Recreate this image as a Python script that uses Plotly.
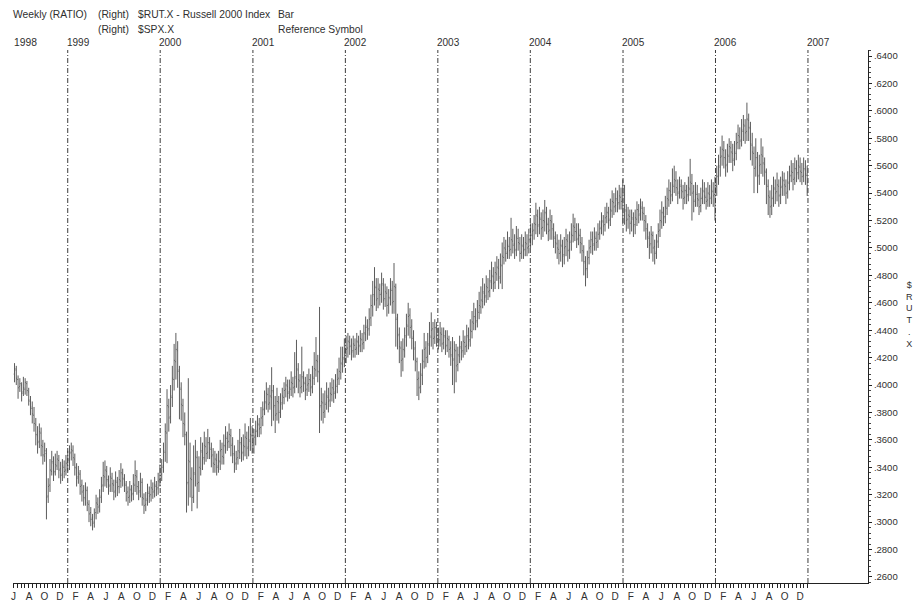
import pandas as pd
import plotly.graph_objects as go

# Weekly RUT/SPX ratio bars, values in thousandths (e.g. 412 -> .412)
close_1998 = [412,405,398,401,394,398,402,396,389,384,379,372,364,358,366,356,349,352,318,326,338,344,336,342,346,338,334,341,337,343,346]
open_1998 = [408,411,404,399,400,395,397,401,395,388,383,378,371,363,359,365,355,348,350,319,327,337,343,337,341,345,339,335,340,338,342]
high_1998 = [416,414,407,405,402,406,405,403,398,392,388,384,376,370,372,369,360,358,354,332,346,352,348,350,352,349,344,346,345,349,352]
low_1998 = [402,400,390,395,388,392,393,392,385,378,372,366,356,350,354,348,342,344,302,314,322,334,330,334,338,332,328,330,332,334,337]

close_1999 = [350,353,347,340,332,336,326,322,318,324,314,306,302,299,306,314,311,318,326,334,338,331,326,333,328,322,330,325,331,336,332,328,321,318,324,320,328,334,326,322,330,318,312,316,322,319,325,322,327,324,330,334]
open_1999 = [345,351,352,346,339,333,335,327,323,317,323,313,307,303,300,307,313,312,319,327,333,337,330,327,332,327,323,329,326,330,335,331,327,322,319,323,321,327,333,325,323,329,317,313,317,321,320,324,323,326,325,331]
high_1999 = [356,358,356,350,343,341,338,331,327,329,326,316,311,306,310,320,318,324,333,344,345,341,334,340,336,331,337,333,338,343,339,335,330,326,330,327,335,345,338,330,336,332,321,322,328,326,331,329,333,330,336,342]
low_1999 = [338,345,341,334,326,328,320,315,312,312,308,300,297,294,296,302,306,307,314,322,326,325,320,322,322,316,318,319,321,325,326,322,315,312,314,315,316,322,320,316,318,312,306,308,312,314,315,317,318,319,320,326]

close_2000 = [340,352,366,385,376,392,405,418,426,410,398,386,372,364,328,345,332,318,336,348,328,340,352,346,356,350,358,354,348,343,346,340,345,352,348,356,362,358,364,356,350,342,346,352,358,350,356,362,354,360,364,358]
open_2000 = [335,341,351,365,384,377,391,404,417,425,411,397,385,371,363,329,344,331,319,335,347,329,339,351,347,355,351,357,353,349,342,345,341,344,353,347,355,361,359,363,357,349,343,347,351,357,351,355,361,355,359,363]
high_2000 = [346,358,372,397,390,400,414,430,438,432,414,402,390,380,366,405,358,340,356,360,352,348,362,358,366,362,368,362,358,354,352,350,352,360,358,364,370,366,372,368,362,356,352,360,368,362,364,372,366,370,376,370]
low_2000 = [330,336,344,343,366,372,384,396,404,398,375,374,362,356,307,312,318,308,314,326,310,322,334,338,342,344,346,346,340,336,336,334,336,338,342,342,350,352,354,348,343,336,338,342,346,344,345,348,346,348,352,350]

close_2001 = [362,366,372,368,376,382,388,394,386,392,396,384,378,388,380,386,392,396,400,394,398,402,398,406,412,404,398,406,402,396,400,404,398,406,412,418,410,384,388,380,386,392,388,394,398,394,400,404,410,416,420,424]
open_2001 = [357,363,367,371,369,377,383,387,393,387,391,395,385,379,387,381,387,391,397,399,395,397,401,399,405,411,403,399,405,401,397,401,403,399,405,411,417,409,385,387,381,387,391,389,393,397,395,399,405,409,415,419]
high_2001 = [368,374,378,376,384,388,396,402,398,400,413,400,392,398,392,394,398,402,406,404,404,410,406,424,433,416,408,428,410,406,408,412,408,414,424,435,422,457,398,394,396,402,398,402,405,404,408,412,420,428,428,434]
low_2001 = [350,356,362,362,364,370,378,382,380,382,370,374,365,374,372,376,382,386,391,388,390,392,391,394,398,394,391,394,395,389,392,395,392,394,400,406,402,365,374,372,376,382,380,384,388,387,390,394,400,404,409,413]

close_2002 = [426,432,428,424,430,426,432,428,434,430,438,442,440,448,458,466,472,462,470,466,474,462,468,458,464,470,460,472,448,436,428,418,426,436,444,450,442,434,426,418,404,398,408,418,426,420,430,436,440,434,442,436]
open_2002 = [423,427,431,429,425,429,427,431,429,433,431,437,443,441,449,457,465,471,463,469,467,473,463,467,459,463,469,461,471,449,437,427,419,425,435,443,451,443,435,427,417,405,399,407,417,427,421,429,435,441,435,441]
high_2002 = [436,438,436,434,436,434,438,436,440,438,444,450,448,456,466,476,486,478,478,474,482,478,474,472,470,478,476,489,474,452,442,432,434,442,452,460,456,448,440,432,420,410,416,426,438,432,438,446,453,446,448,446]
low_2002 = [416,420,422,418,420,420,422,422,424,424,426,432,433,436,443,450,458,454,456,458,460,455,457,450,452,458,452,452,428,426,416,406,410,420,428,436,434,426,418,410,392,389,394,400,412,413,416,422,428,426,430,428]

close_2003 = [432,438,430,436,428,434,426,422,418,426,414,422,428,424,432,428,436,432,440,446,450,446,454,458,462,468,464,472,468,476,480,474,482,486,478,488,494,500,496,502,498,506,502,498,508,504,496,502,498,504,500,506,510]
open_2003 = [437,433,437,431,435,429,433,427,421,419,425,415,421,427,425,431,429,435,433,439,445,449,447,453,457,461,467,465,471,469,475,479,475,481,485,479,487,493,499,497,501,499,505,503,499,507,503,497,501,499,503,501,505]
high_2003 = [442,446,442,442,440,440,436,432,435,432,430,428,436,432,440,436,444,442,448,454,460,456,462,468,472,478,474,480,478,484,490,486,490,494,492,496,504,508,506,512,508,522,514,510,516,514,508,510,508,512,510,514,518]
low_2003 = [426,428,424,426,422,424,420,414,400,394,402,410,416,418,420,422,424,426,428,434,440,440,442,448,452,456,458,460,462,464,470,468,470,476,470,474,470,488,490,492,492,494,496,492,494,498,490,492,492,494,494,496,500]

close_2004 = [512,518,524,516,522,514,520,526,518,512,520,514,508,504,500,496,502,494,500,506,498,504,510,516,512,506,510,504,498,490,484,492,500,506,502,508,504,510,514,520,516,522,526,520,528,534,530,536,532,538,534,540]
open_2004 = [509,513,517,523,517,521,515,519,525,517,513,519,513,507,503,499,497,501,495,501,505,499,505,509,515,511,507,509,503,497,489,485,493,501,505,503,507,505,511,515,519,517,523,525,521,527,533,531,535,533,537,535]
high_2004 = [518,524,533,528,530,526,528,535,530,522,528,524,518,512,510,506,510,506,508,514,510,512,518,525,522,518,518,514,508,502,494,498,506,512,512,515,512,518,520,526,524,530,533,530,536,542,540,544,542,546,544,550]
low_2004 = [502,506,510,508,510,506,508,512,510,505,506,506,500,496,492,488,490,486,488,494,490,492,498,504,505,500,502,496,490,480,472,478,488,496,495,498,498,500,506,510,509,512,518,514,516,522,524,526,526,528,528,517]

close_2005 = [528,520,524,518,522,516,522,528,524,530,526,520,514,508,502,510,500,496,504,512,520,526,522,530,536,542,538,546,550,544,540,546,542,536,542,538,544,548,540,534,540,536,530,536,542,538,534,540,536,542,538,544]
open_2005 = [539,527,521,523,519,521,517,521,527,525,529,525,519,513,507,503,509,501,497,505,513,519,525,523,529,535,541,539,545,549,543,541,545,541,537,541,539,543,547,541,535,539,535,531,537,541,537,535,539,537,541,539]
high_2005 = [546,532,530,528,528,526,528,534,532,536,534,530,524,518,512,516,512,506,510,518,528,534,530,538,544,550,548,558,560,556,550,552,550,546,548,546,552,565,554,546,548,546,540,544,550,548,544,548,546,550,548,552]
low_2005 = [517,512,514,510,512,508,510,516,518,520,520,512,506,500,492,496,490,488,492,500,508,514,516,518,524,530,532,534,540,538,532,536,536,528,532,532,534,538,520,526,530,530,524,526,532,532,528,530,530,532,530,520]

close_2006 = [552,560,566,572,566,560,568,574,570,564,570,576,582,578,586,590,584,594,588,576,570,558,566,552,560,568,562,556,546,538,530,536,544,540,546,538,544,550,546,540,548,552,556,550,558,554,560,556,552,558,554,548]
open_2006 = [545,553,559,567,571,565,561,567,573,569,565,569,577,581,579,585,589,585,593,587,575,569,559,565,553,561,567,561,555,545,537,531,537,543,541,545,539,545,549,545,541,547,553,555,551,557,555,559,555,553,557,553]
high_2006 = [560,568,574,582,578,572,576,580,578,576,578,584,590,588,594,597,594,606,598,592,584,574,580,570,568,580,574,566,558,550,542,546,552,550,555,550,552,556,555,550,556,560,564,562,566,564,568,566,562,566,564,560]
low_2006 = [538,546,552,560,558,552,555,562,562,556,560,564,572,572,574,578,576,578,578,564,560,540,552,540,546,554,552,546,532,524,522,524,530,532,534,530,532,538,538,532,536,542,548,542,546,548,550,548,546,548,546,538]

year_labels = ["1998", "1999", "2000", "2001", "2002", "2003", "2004", "2005", "2006", "2007"]
month_letters = ["J", "F", "M", "A", "M", "J", "J", "A", "S", "O", "N", "D"]
y_ticks = [0.26, 0.28, 0.30, 0.32, 0.34, 0.36, 0.38, 0.40, 0.42, 0.44, 0.46, 0.48,
           0.50, 0.52, 0.54, 0.56, 0.58, 0.60, 0.62, 0.64]

segments = [
    (open_1998, high_1998, low_1998, close_1998),
    (open_1999, high_1999, low_1999, close_1999),
    (open_2000, high_2000, low_2000, close_2000),
    (open_2001, high_2001, low_2001, close_2001),
    (open_2002, high_2002, low_2002, close_2002),
    (open_2003, high_2003, low_2003, close_2003),
    (open_2004, high_2004, low_2004, close_2004),
    (open_2005, high_2005, low_2005, close_2005),
    (open_2006, high_2006, low_2006, close_2006),
]
O, H, L, C = [], [], [], []
for o, h, l, c in segments:
    n = min(len(o), len(h), len(l), len(c))
    O += [v / 1000 for v in o[:n]]
    H += [v / 1000 for v in h[:n]]
    L += [v / 1000 for v in l[:n]]
    C += [v / 1000 for v in c[:n]]

dates = pd.date_range("1998-06-05", periods=len(C), freq="7D")

# page geometry: the page body has an 8px margin, so the figure sits at (8, 8)
OFF = 8
W, Hh = 922 - OFF, 604 - OFF
# plot area in page pixels: x 13..868, y 50..583
ml, mr, mt, mb = 13 - OFF, W - (868 - OFF), 50 - OFF, Hh - (583 - OFF)
pw, ph = W - ml - mr, Hh - mt - mb


def px_x(px):
    return (px - OFF - ml) / pw


def px_y(py):
    return (Hh - mb - (py - OFF)) / ph


fig = go.Figure()
fig.add_trace(go.Ohlc(
    x=dates, open=O, high=H, low=L, close=C,
    increasing=dict(line=dict(color="#5c5c5c", width=1)),
    decreasing=dict(line=dict(color="#5c5c5c", width=1)),
    tickwidth=0.45, showlegend=False, hoverinfo="skip",
))

# bottom ticks: semi-monthly, letters on even months
tickvals, ticktext = [], []
for d in pd.date_range("1998-06-01", "2007-01-01", freq="MS"):
    tickvals.append(d)
    ticktext.append(month_letters[d.month - 1] if d.month % 2 == 0 else "")
    mid = d + pd.Timedelta(days=14)
    if mid < pd.Timestamp("2007-01-01"):
        tickvals.append(mid)
        ticktext.append("")

shapes = []
for yr in range(1999, 2008):
    shapes.append(dict(type="line", xref="x", yref="paper",
                       x0=f"{yr}-01-01", x1=f"{yr}-01-01", y0=0, y1=1.0,
                       line=dict(color="#3c3c3c", width=1, dash="5px,2px,1px,2px")))
shapes.append(dict(type="rect", xref="paper", yref="paper",
                   x0=px_x(914), x1=px_x(923), y0=px_y(605), y1=px_y(270),
                   fillcolor="#e8e8e8", line=dict(width=0), layer="above"))

font = "Liberation Sans, Arial, sans-serif"
tc = "#2f2f2f"
ann = []


def add_text(txt, px, py, size=10.3, anchor="left"):
    ann.append(dict(text=txt, x=px_x(px), y=px_y(py), xref="paper", yref="paper",
                    xanchor=anchor, yanchor="middle", showarrow=False,
                    font=dict(family=font, size=size, color=tc)))


add_text("Weekly (RATIO)", 11, 15)
add_text("(Right)", 96, 15)
add_text("$RUT.X - Russell 2000 Index", 136, 15)
add_text("Bar", 276, 15)
add_text("(Right)", 96, 29)
add_text("$SPX.X", 136, 29)
add_text("Reference Symbol", 276, 29)
add_text(year_labels[0], 12, 42)
for i, lab in enumerate(year_labels[1:]):
    ann.append(dict(text=lab, x=f"{1999 + i}-01-01", y=px_y(42), xref="x", yref="paper",
                    xanchor="left", yanchor="middle", showarrow=False, xshift=-3,
                    font=dict(family=font, size=10, color=tc)))
ann.append(dict(text="$<br>R<br>U<br>T<br>.<br>X", x=px_x(910), y=px_y(314),
                xref="paper", yref="paper", xanchor="center", yanchor="middle",
                showarrow=False, font=dict(family=font, size=9, color=tc)))

fig.update_layout(
    width=W, height=Hh,
    margin=dict(l=ml, r=mr, t=mt, b=mb, pad=0),
    paper_bgcolor="white", plot_bgcolor="white",
    font=dict(family=font, size=10, color=tc),
    shapes=shapes, annotations=ann,
    xaxis=dict(type="date", range=["1998-05-30", "2007-08-26"], automargin=False,
               rangeslider=dict(visible=False), showgrid=False, zeroline=False,
               showline=True, linecolor="#222", linewidth=1,
               ticks="outside", ticklen=4, tickcolor="#222",
               tickvals=tickvals, ticktext=ticktext,
               tickfont=dict(size=10, color=tc)),
    yaxis=dict(side="right", range=[0.2556, 0.6444], automargin=False,
               showgrid=False, zeroline=False,
               showline=True, linecolor="#222", linewidth=1,
               ticks="outside", ticklen=3, tickcolor="#222",
               tickvals=y_ticks, ticktext=[".%04d" % round(v * 10000) for v in y_ticks],
               tickfont=dict(size=9.5, color=tc),
               minor=dict(ticks="outside", ticklen=2, dtick=0.004, tickcolor="#444")),
)

fig.write_html("out.html")
